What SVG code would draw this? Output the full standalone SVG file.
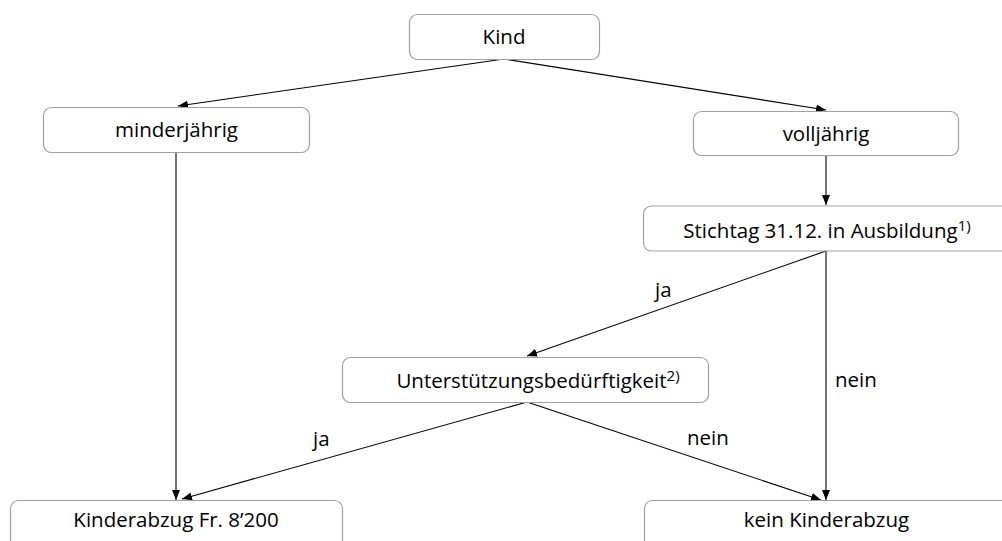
<svg xmlns="http://www.w3.org/2000/svg" width="1002" height="541" viewBox="0 0 1002 541">
<defs>
<style>
.box{fill:#fff;stroke:#a0a0a0;stroke-width:1.2}
.t{font-family:"Open Sans","Liberation Sans",Arial,sans-serif;font-size:20.5px;fill:#000;text-anchor:middle}
.l{font-family:"Open Sans","Liberation Sans",Arial,sans-serif;font-size:20.5px;fill:#000}
.sup{font-size:15px}
.c{stroke:#000;stroke-width:1.1;fill:none;marker-end:url(#ah)}
</style>
<marker id="ah" viewBox="0 0 10 8" refX="10" refY="4" markerWidth="10" markerHeight="8" markerUnits="userSpaceOnUse" orient="auto">
<path d="M0,0 L10,4 L0,8 Z" fill="#000"/>
</marker>
</defs>
<rect width="1002" height="541" fill="#fff"/>
<g id="connectors">
<line class="c" x1="504" y1="59" x2="178" y2="106"/>
<line class="c" x1="504" y1="59" x2="826" y2="110"/>
<line class="c" x1="176" y1="152" x2="176" y2="500"/>
<line class="c" x1="826" y1="156" x2="826" y2="205"/>
<line class="c" x1="826" y1="251" x2="527" y2="356"/>
<line class="c" x1="826" y1="251" x2="826" y2="500"/>
<line class="c" x1="527" y1="402" x2="182" y2="499"/>
<line class="c" x1="527" y1="402" x2="821" y2="500"/>
</g>
<g id="labels">
<text class="l" x="655" y="297">ja</text>
<text class="l" x="835" y="387">nein</text>
<text class="l" x="313" y="446">ja</text>
<text class="l" x="687" y="445">nein</text>
</g>
<g id="kind">
<rect class="box" x="409.5" y="14.5" width="190" height="45" rx="8"/>
<text class="t" x="504" y="44">Kind</text>
</g>
<g id="minderjaehrig">
<rect class="box" x="43.5" y="107.5" width="266" height="45" rx="8"/>
<text class="t" x="176.5" y="137">minderjährig</text>
</g>
<g id="volljaehrig">
<rect class="box" x="693.5" y="111.5" width="265" height="44" rx="8"/>
<text class="t" x="826" y="141">volljährig</text>
</g>
<g id="stichtag">
<rect class="box" x="643.5" y="206" width="366" height="45" rx="8"/>
<text class="t" x="827" y="238">Stichtag 31.12. in Ausbildung<tspan class="sup" dy="-7">1)</tspan></text>
</g>
<g id="unterstuetzung">
<rect class="box" x="342.5" y="357.5" width="366" height="45" rx="8"/>
<text class="t" x="538" y="388">Unterstützungsbedürftigkeit<tspan class="sup" dy="-7">2)</tspan></text>
</g>
<g id="kinderabzug">
<rect class="box" x="10.5" y="500.5" width="332" height="50" rx="8"/>
<text class="t" x="176" y="527">Kinderabzug Fr. 8’200</text>
</g>
<g id="kein">
<rect class="box" x="644.5" y="500.5" width="366" height="50" rx="8"/>
<text class="t" x="826.5" y="527">kein Kinderabzug</text>
</g>
</svg>
